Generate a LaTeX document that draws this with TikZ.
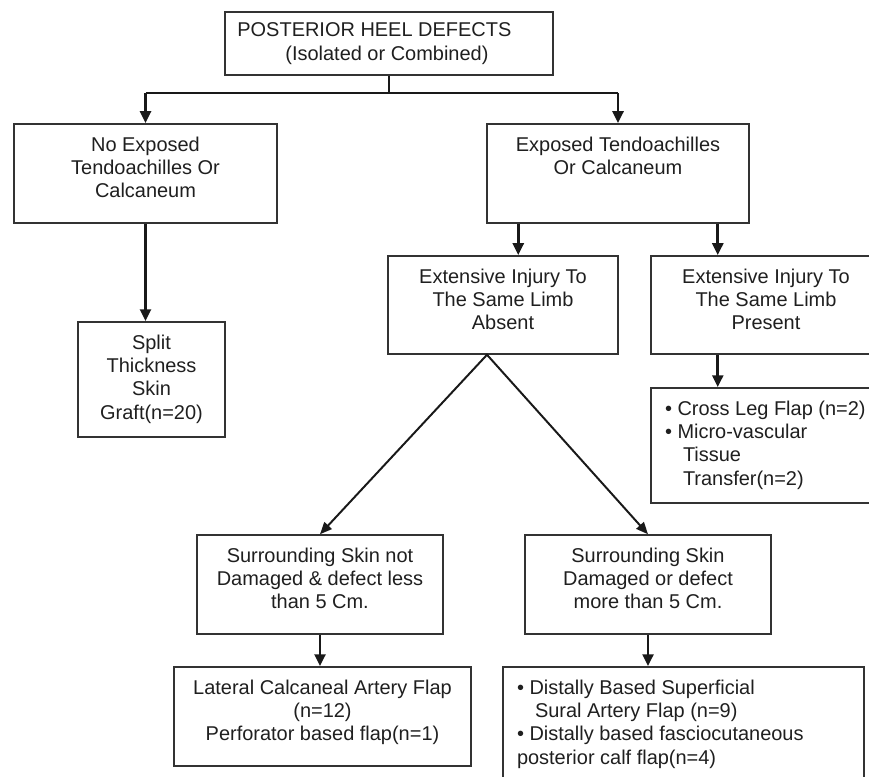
\documentclass[tikz,border=0pt]{standalone}
\usepackage{fontspec}
\setmainfont{Liberation Sans}
\usetikzlibrary{positioning,calc,arrows.meta}

% top-aligned cell texts (width, height, text)
\newcommand{\ccell}[3]{\parbox[c][#2][t]{#1}{\centering\vspace*{0.32cm}#3}}
\newcommand{\lcell}[3]{\parbox[c][#2][t]{#1}{\raggedright\leftskip=0.35cm\vspace*{0.32cm}#3}}

\begin{document}
\begin{tikzpicture}[
				box/.style={draw=black!80, line width=1.07pt, inner sep=0pt, text=black!88, font=\fontsize{14.2pt}{16.6pt}\selectfont},
				arr/.style={-{Triangle[length=0.3cm, width=0.27cm]}, line width=2.1pt, draw=black!90},
				diag/.style={{Triangle[length=0.3cm, width=0.25cm]}-{Triangle[length=0.3cm, width=0.25cm]}, line width=1.4pt, draw=black!90},
				link/.style={line width=1.4pt, draw=black!90}
				]
				\useasboundingbox (0,0) rectangle (21.725,-19.425);
				
				% ==========================================
				% ROW 1: main question
				% ==========================================
				\node[box] (top) at (9.725,-1.0875) {\parbox[c][1.575cm][c]{8.2cm}{\raggedright\leftskip=0.31cm POSTERIOR HEEL DEFECTS\\\hspace*{1.2cm}(Isolated or Combined)}};
				
				% ==========================================
				% ROW 2: exposed or not
				% ==========================================
				\node[box] (noexp) at (3.6375,-4.3375) {\ccell{6.575cm}{2.475cm}{No Exposed\\Tendoachilles Or\\Calcaneum}};
				\node[box] (expo) at (15.45,-4.3375) {\ccell{6.55cm}{2.475cm}{Exposed Tendoachilles\\Or Calcaneum}};
				
				\coordinate (split) at ($(top.south)+(0,-0.425)$);
				\draw[link] (top.south) -- (split);
				\draw[link] (noexp.north |- split) -- (expo.north |- split);
				\draw[arr] (noexp.north |- split) -- (noexp.north);
				\draw[arr] (expo.north |- split) -- (expo.north);
				
				% -- left branch --
				\node[box] (graft) at (3.7875,-9.4875) {\ccell{3.675cm}{2.875cm}{Split\\Thickness\\Skin\\Graft(n=20)}};
				\draw[arr] (noexp.south) -- (noexp.south |- graft.north);
				
				% ==========================================
				% ROW 3: injury to the same limb
				% ==========================================
				\node[box] (absent) at (12.575,-7.625) {\ccell{5.75cm}{2.45cm}{Extensive Injury To\\The Same Limb\\Absent}};
				\node[box] (present) at (19.15,-7.625) {\ccell{5.75cm}{2.45cm}{Extensive Injury To\\The Same Limb\\Present}};
				
				\coordinate (e1) at ([xshift=0.8cm]expo.south west);
				\coordinate (e2) at ([xshift=-0.8cm]expo.south east);
				\draw[arr] (e1) -- (e1 |- absent.north);
				\draw[arr] (e2) -- (e2 |- present.north);
				
				\node[box] (crossleg) at (19.15,-11.1375) {\lcell{5.75cm}{2.875cm}{\textbullet\ Cross Leg Flap (n=2)\\\textbullet\ Micro-vascular\\\hspace*{0.45cm}Tissue\\\hspace*{0.45cm}Transfer(n=2)}};
				\draw[arr] (e2 |- present.south) -- (e2 |- crossleg.north);
				
				% ==========================================
				% ROW 4: surrounding skin
				% ==========================================
				\node[box] (notdam) at (8.0,-14.6125) {\ccell{6.15cm}{2.475cm}{Surrounding Skin not\\Damaged \& defect less\\than 5 Cm.}};
				\node[box] (dam) at (16.2,-14.6125) {\ccell{6.15cm}{2.475cm}{Surrounding Skin\\Damaged or defect\\more than 5 Cm.}};
				
				\coordinate (apex) at ([xshift=-0.4cm]absent.south);
				\draw[diag] (notdam.north) -- (apex) -- (dam.north);
				
				% ==========================================
				% ROW 5: flaps
				% ==========================================
				\node[box] (lateral) at (8.0625,-17.9125) {\ccell{7.425cm}{2.475cm}{Lateral Calcaneal Artery Flap\\(n=12)\\Perforator based flap(n=1)}};
				\node[box] (sural) at (17.0875,-18.1125) {\lcell{9.025cm}{2.875cm}{\textbullet\ Distally Based Superficial\\\hspace*{0.45cm}Sural Artery Flap (n=9)\\\textbullet\ Distally based fasciocutaneous\\posterior calf flap(n=4)}};
				
				\draw[arr] (notdam.south) -- (notdam.south |- lateral.north);
				\draw[arr] (dam.south) -- (dam.south |- sural.north);
				
			\end{tikzpicture}
\end{document}
